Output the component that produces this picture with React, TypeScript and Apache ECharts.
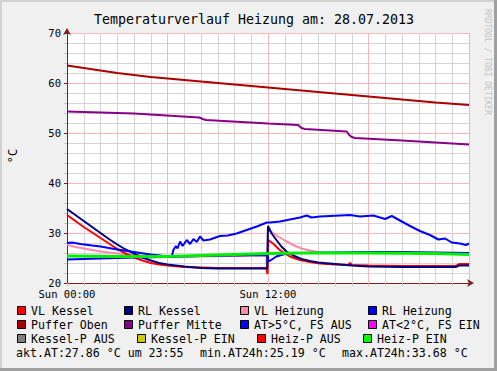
import React, { useEffect, useRef } from "react";
import * as echarts from "echarts";

const TITLE = "Temperaturverlauf Heizung am: 28.07.2013";
const Y_TICKS = [20, 30, 40, 50, 60, 70];
const X_LABELS: Record<number, string> = { 0: "Sun 00:00", 12: "Sun 12:00" };

const pufferObenH = [0, 1, 2, 3, 4, 5, 6, 8, 10, 12, 14, 16, 18, 20, 22, 24];
const pufferObenV = [63.5, 63.0, 62.5, 62.0, 61.6, 61.2, 60.9, 60.3, 59.7, 59.1, 58.5, 57.9, 57.3, 56.7, 56.1, 55.6];

const pufferMitteH = [0, 4, 7.9, 8.1, 8.3, 12, 13.8, 14.0, 14.2, 16.7, 16.85, 17.0, 17.2, 20, 24];
const pufferMitteV = [54.3, 53.9, 53.1, 52.8, 52.6, 51.9, 51.6, 51.0, 50.8, 50.3, 49.6, 49.2, 49.0, 48.5, 47.7];

const vlKesselH = [0, 0.5, 1, 1.5, 2, 2.5, 3, 3.5, 4, 4.5, 5, 5.5, 6, 7, 8, 9, 10, 11, 11.9, 11.97, 12.02, 12.3, 12.7, 13.3, 13.9, 14.5, 15.1, 16, 16.8, 16.9, 17.0, 18, 20, 22, 23.2, 23.4, 24];
const vlKesselV = [33.6, 32.4, 31.2, 30.1, 29.0, 27.9, 26.8, 25.9, 25.1, 24.5, 24.0, 23.7, 23.5, 23.2, 23.1, 23.0, 23.0, 23.0, 23.0, 21.8, 28.6, 27.9, 26.6, 25.3, 24.6, 24.2, 23.9, 23.7, 23.6, 24.0, 23.6, 23.5, 23.4, 23.4, 23.4, 23.8, 23.8];

const rlKesselH = [0, 0.5, 1, 1.5, 2, 2.5, 3, 3.5, 4, 4.5, 5, 5.5, 6, 7, 8, 9, 10, 11, 11.95, 12.0, 12.2, 12.5, 12.8, 13.1, 13.5, 14, 14.5, 15, 16, 17, 18, 20, 22, 23.2, 23.4, 24];
const rlKesselV = [34.8, 33.6, 32.4, 31.2, 30.0, 28.8, 27.7, 26.7, 25.9, 25.1, 24.5, 24.0, 23.7, 23.3, 23.0, 22.9, 22.9, 22.9, 22.9, 31.4, 30.0, 28.6, 27.3, 26.3, 25.5, 24.8, 24.4, 24.1, 23.8, 23.5, 23.3, 23.2, 23.2, 23.2, 23.5, 23.5];

const vlHeizungH = [0, 0.5, 1, 1.5, 2, 2.5, 3, 4, 5, 6, 8, 10, 11.9, 11.95, 12.0, 12.3, 12.6, 13, 13.5, 14, 14.5, 15, 16, 18, 20, 22, 24];
const vlHeizungV = [27.7, 27.2, 26.9, 26.6, 26.3, 26.1, 25.9, 25.6, 25.4, 25.3, 25.3, 25.4, 25.5, 22.0, 30.7, 30.0, 29.3, 28.5, 27.6, 26.9, 26.5, 26.2, 26.0, 26.0, 26.0, 25.9, 25.8];

const rlHeizungH = [0, 2, 4, 6, 8, 10, 11.95, 12.05, 12.5, 13, 13.5, 14, 16, 18, 20, 22, 24];
const rlHeizungV = [24.7, 24.9, 25.1, 25.2, 25.4, 25.5, 25.6, 24.3, 25.3, 25.8, 26.0, 26.0, 26.1, 26.2, 26.2, 26.1, 26.0];

const aussenH = [0, 0.3, 0.8, 1.5, 2, 3, 4, 5, 5.55, 6.0, 6.25, 6.35, 6.5, 6.6, 6.75, 6.9, 7.15, 7.35, 7.55, 7.75, 7.94, 8.15, 8.54, 9.13, 9.6, 10.13, 10.73, 11.33, 11.93, 12.12, 12.72, 13.31, 13.91, 14.31, 14.6, 15.1, 15.7, 16.3, 16.9, 17.49, 18.29, 18.99, 19.39, 19.88, 20.48, 21.07, 21.67, 22.17, 22.57, 22.97, 23.46, 23.82, 24];
const aussenV = [28.0, 28.1, 27.8, 27.5, 27.3, 26.7, 26.2, 25.7, 25.5, 25.3, 25.2, 26.6, 27.4, 26.9, 28.3, 27.4, 28.6, 27.8, 28.8, 28.2, 29.3, 28.5, 28.7, 29.4, 29.5, 29.9, 30.6, 31.3, 32.1, 32.1, 32.3, 32.7, 33.1, 33.5, 33.1, 33.3, 33.4, 33.5, 33.6, 33.3, 33.5, 32.8, 33.4, 32.5, 31.4, 30.4, 29.6, 28.7, 28.9, 28.1, 27.9, 27.6, 27.9];

const heizPEinH = [0, 3, 6, 8, 10, 12, 14, 18, 22, 24];
const heizPEinV = [25.4, 25.3, 25.3, 25.5, 25.7, 25.9, 26.0, 26.0, 25.9, 25.7];

const LEGEND_ROWS: { name: string; color: string; sx: number }[][] = [
  [
    { name: "VL Kessel", color: "#ff0000", sx: 17 },
    { name: "RL Kessel", color: "#000080", sx: 124 },
    { name: "VL Heizung", color: "#ff88aa", sx: 240 },
    { name: "RL Heizung", color: "#0000ff", sx: 368 },
  ],
  [
    { name: "Puffer Oben", color: "#aa0000", sx: 17 },
    { name: "Puffer Mitte", color: "#880088", sx: 124 },
    { name: "AT>5°C, FS AUS", color: "#0000ff", sx: 240 },
    { name: "AT<2°C, FS EIN", color: "#ff00ff", sx: 368 },
  ],
  [
    { name: "Kessel-P AUS", color: "#808080", sx: 17 },
    { name: "Kessel-P EIN", color: "#cccc00", sx: 137 },
    { name: "Heiz-P AUS", color: "#ff0000", sx: 257 },
    { name: "Heiz-P EIN", color: "#00ff00", sx: 363 },
  ],
];
const LEGEND_ROW_Y = [311, 325, 339];
const STATS = [
  { text: "akt.AT:27.86 °C um 23:55", x: 16 },
  { text: "min.AT24h:25.19 °C", x: 200 },
  { text: "max.AT24h:33.68 °C", x: 342 },
];

const FONT = "DejaVu Sans Mono";
const pairs = (h: number[], v: number[]) => h.map((x, i) => [x, v[i]]);

export default function App() {
  const ref = useRef<HTMLDivElement>(null);
  useEffect(() => {
    if (!ref.current) return;
    const chart = echarts.init(ref.current, null, { renderer: "svg" });
    const line = (name: string, h: number[], v: number[], color: string, width = 2) => ({
      name,
      type: "line",
      data: pairs(h, v),
      showSymbol: false,
      symbol: "none",
      lineStyle: { color, width },
      itemStyle: { color },
      z: 3,
    });
    const graphics: any[] = [
      { type: "rect", shape: { x: 0, y: 0, width: 497, height: 2 }, style: { fill: "#d2d2d2" }, silent: true },
      { type: "rect", shape: { x: 0, y: 0, width: 2, height: 371 }, style: { fill: "#d2d2d2" }, silent: true },
      { type: "rect", shape: { x: 494, y: 0, width: 3, height: 371 }, style: { fill: "#a0a0a0" }, silent: true },
      { type: "rect", shape: { x: 0, y: 368, width: 497, height: 3 }, style: { fill: "#a0a0a0" }, silent: true },
      {
        type: "text",
        x: 13,
        y: 156,
        rotation: Math.PI / 2,
        style: { text: "°C", font: `12px '${FONT}'`, fill: "#000", align: "center", verticalAlign: "middle" },
      },
      {
        type: "text",
        x: 487,
        y: 62,
        rotation: -Math.PI / 2,
        style: { text: "RRDTOOL / TOBI OETIKER", font: `8px '${FONT}'`, fill: "#c4c4c4", align: "center", verticalAlign: "middle" },
      },
    ];
    LEGEND_ROWS.forEach((row, r) => {
      row.forEach((it) => {
        graphics.push({
          type: "rect",
          shape: { x: it.sx + 0.5, y: LEGEND_ROW_Y[r] - 4.5, width: 8, height: 8 },
          style: { fill: it.color, stroke: "#000", lineWidth: 1 },
        });
        graphics.push({
          type: "text",
          x: it.sx + 14,
          y: LEGEND_ROW_Y[r],
          style: { text: it.name, font: `11.6px '${FONT}'`, fill: "#000", verticalAlign: "middle" },
        });
      });
    });
    STATS.forEach((s) => {
      graphics.push({
        type: "text",
        x: s.x,
        y: 353,
        style: { text: s.text, font: `11.6px '${FONT}'`, fill: "#000", verticalAlign: "middle" },
      });
    });

    chart.setOption({
      animation: false,
      backgroundColor: "#f0f0f0",
      title: {
        text: TITLE,
        left: 249,
        top: 8,
        textAlign: "center",
        textStyle: { fontFamily: FONT, fontSize: 13.3, fontWeight: "normal", color: "#000" },
      },
      grid: { left: 67, right: 28, top: 33, bottom: 88, show: true, backgroundColor: "#ffffff", borderWidth: 0 },
      xAxis: {
        type: "value",
        min: 0,
        max: 24,
        interval: 6,
        axisLine: {
          show: true,
          lineStyle: { color: "#7f1f1f", width: 1 },
          symbol: ["none", "arrow"],
          symbolSize: [6, 7],
          symbolOffset: [0, 5],
        },
        axisTick: { show: true, length: 3, lineStyle: { color: "#f2b0b0" } },
        minorTick: { show: true, splitNumber: 6, length: 3, lineStyle: { color: "#c8c8c8" } },
        splitLine: { show: true, lineStyle: { color: "#f4b8b8", width: 1 } },
        minorSplitLine: { show: true, lineStyle: { color: "#d4d4d4", width: 1 } },
        axisLabel: {
          fontFamily: FONT,
          fontSize: 10.5,
          color: "#000",
          margin: 5,
          showMinLabel: true,
          showMaxLabel: true,
          formatter: (v: number) => X_LABELS[v] ?? "",
        },
      },
      yAxis: {
        type: "value",
        min: Y_TICKS[0],
        max: Y_TICKS[Y_TICKS.length - 1],
        interval: 10,
        axisLine: {
          show: true,
          lineStyle: { color: "#7f1f1f", width: 1 },
          symbol: ["none", "arrow"],
          symbolSize: [6, 7],
          symbolOffset: [0, 5],
        },
        axisTick: { show: true, length: 3, lineStyle: { color: "#7f1f1f" } },
        minorTick: { show: true, splitNumber: 5, length: 3, lineStyle: { color: "#c8c8c8" } },
        splitLine: { show: true, lineStyle: { color: "#f4b8b8", width: 1 } },
        minorSplitLine: { show: true, lineStyle: { color: "#d4d4d4", width: 1 } },
        axisLabel: { fontFamily: FONT, fontSize: 10.5, color: "#000", margin: 6 },
      },
      series: [
        line("Puffer Oben", pufferObenH, pufferObenV, "#aa0000"),
        line("Puffer Mitte", pufferMitteH, pufferMitteV, "#880088"),
        line("VL Heizung", vlHeizungH, vlHeizungV, "#ff88aa"),
        line("VL Kessel", vlKesselH, vlKesselV, "#ff0000"),
        line("RL Kessel", rlKesselH, rlKesselV, "#000080"),
        line("AT>5°C, FS AUS", aussenH, aussenV, "#0000ff"),
        line("RL Heizung", rlHeizungH, rlHeizungV, "#0000ff"),
        line("Heiz-P EIN", heizPEinH, heizPEinV, "#00ee00", 3),
      ],
      graphic: graphics,
    });
    return () => chart.dispose();
  }, []);
  return <div ref={ref} style={{ position: "absolute", left: 0, top: 0, width: 497, height: 371 }} />;
}
